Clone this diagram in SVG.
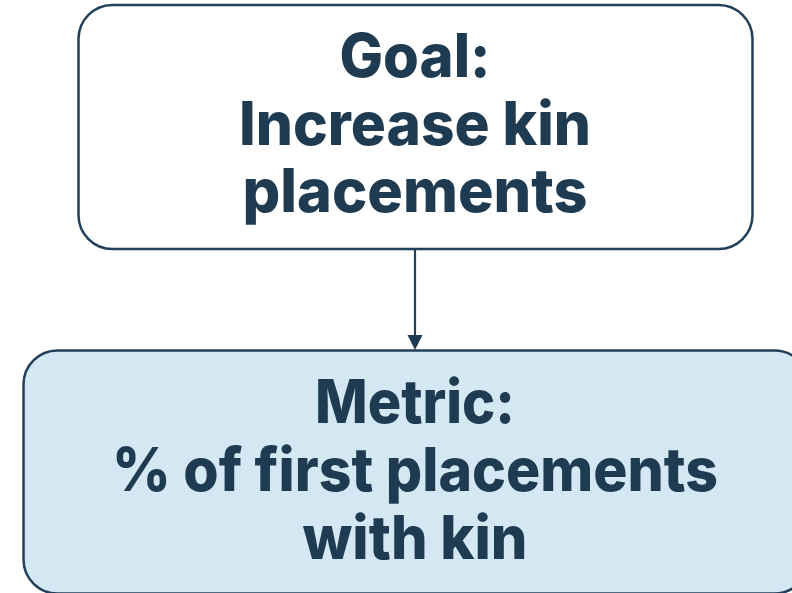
<svg xmlns="http://www.w3.org/2000/svg" width="792" height="593" viewBox="0 0 792 593">
<style>
.box{stroke:#22405a;stroke-width:2.5}
.t{font-family:Inter,"Open Sans","Liberation Sans",sans-serif;font-weight:800;font-size:60px;fill:#1f3b52;text-anchor:middle}
</style>
<rect width="792" height="593" fill="#fff"/>
<g id="connectors">
<line x1="415" y1="249" x2="415" y2="336" stroke="#22405a" stroke-width="2.2"/>
<path d="M407.5,335 L422.5,335 L415,350 Z" fill="#1f3b52"/>
</g>
<g id="goal">
<rect class="box" x="78.5" y="5" width="674" height="244" rx="34" fill="#fff"/>
<text class="t" x="415" y="77" textLength="151" lengthAdjust="spacingAndGlyphs">Goal:</text>
<text class="t" x="415" y="145" textLength="352" lengthAdjust="spacingAndGlyphs">Increase kin</text>
<text class="t" x="415" y="212" textLength="345" lengthAdjust="spacingAndGlyphs">placements</text>
</g>
<g id="metric">
<rect class="box" x="23.5" y="350.5" width="785" height="243" rx="34" fill="#d4e8f4"/>
<text class="t" x="415" y="423" textLength="200" lengthAdjust="spacingAndGlyphs">Metric:</text>
<text class="t" x="415" y="491" textLength="606" lengthAdjust="spacingAndGlyphs">% of first placements</text>
<text class="t" x="415" y="559" textLength="225" lengthAdjust="spacingAndGlyphs">with kin</text>
</g>
</svg>
